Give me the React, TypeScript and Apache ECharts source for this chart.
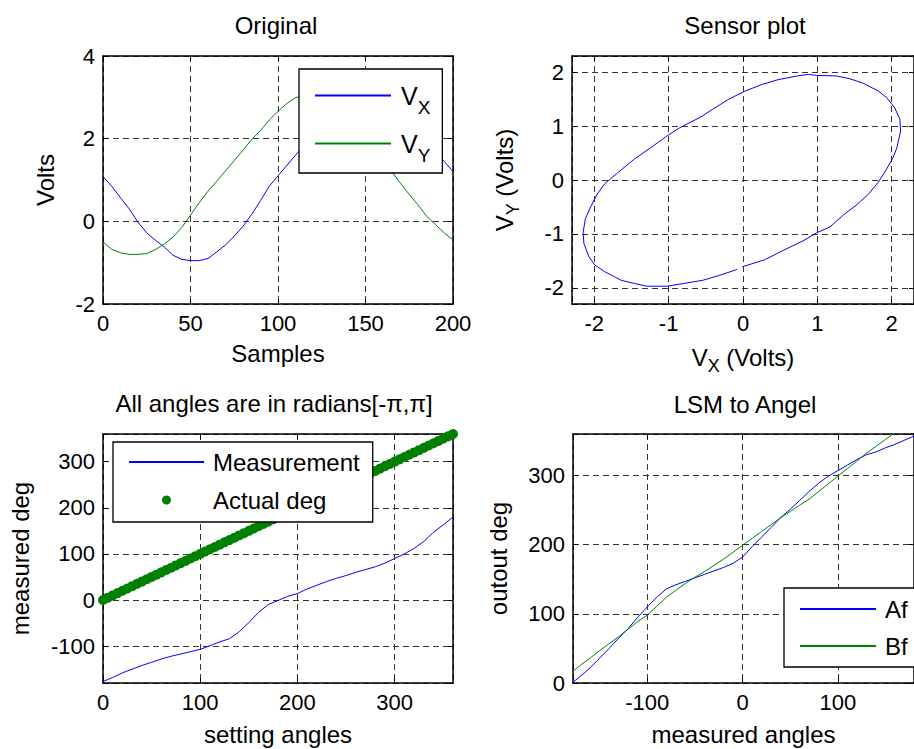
import React, { useEffect, useRef } from "react";
import * as echarts from "echarts";

const FONT = "'Liberation Sans', Arial, Helvetica, sans-serif";

// ---- Subplot 1: Original ----
const samples = [0, 5, 10, 15, 20, 25, 30, 35, 40, 45, 50, 55, 60, 65, 70, 75, 80, 85, 90, 95, 100, 105, 110, 115, 120, 125, 130, 135, 140, 145, 150, 155, 160, 165, 170, 175, 180, 185, 190, 195, 200];
const vx = [1.08, 0.85, 0.57, 0.3, -0.02, -0.28, -0.46, -0.62, -0.82, -0.92, -0.95, -0.95, -0.9, -0.74, -0.57, -0.36, -0.12, 0.17, 0.5, 0.85, 1.1, 1.35, 1.6, 1.85, 2.1, 2.3, 2.5, 2.65, 2.75, 2.8, 2.8, 2.75, 2.65, 2.5, 2.35, 2.2, 2.05, 1.85, 1.68, 1.45, 1.2];
const vy = [-0.5, -0.68, -0.76, -0.8, -0.8, -0.78, -0.68, -0.55, -0.38, -0.15, 0.15, 0.45, 0.73, 0.97, 1.22, 1.47, 1.72, 1.98, 2.2, 2.45, 2.66, 2.85, 2.99, 3.06, 3.1, 3.07, 2.95, 2.75, 2.5, 2.25, 1.98, 1.7, 1.45, 1.2, 0.92, 0.65, 0.4, 0.12, -0.08, -0.28, -0.45];

// ---- Subplot 2: Sensor plot ----
const sensorVx = [-0.01, 0.29, 0.55, 0.82, 0.99, 1.17, 1.34, 1.52, 1.69, 1.82, 1.93, 2.02, 2.07, 2.12, 2.11, 2.04, 1.93, 1.82, 1.61, 1.43, 1.26, 0.99, 0.88, 0.73, 0.47, 0.25, 0.03, -0.19, -0.41, -0.58, -0.85, -1.02, -1.24, -1.46, -1.68, -1.86, -1.96, -2.05, -2.12, -2.15, -2.14, -2.07, -1.99, -1.86, -1.64, -1.46, -1.29, -1.02, -0.8, -0.54, -0.32, -0.08];
const sensorVy = [-1.61, -1.48, -1.3, -1.12, -0.98, -0.87, -0.66, -0.47, -0.26, -0.04, 0.2, 0.42, 0.6, 0.91, 1.13, 1.34, 1.53, 1.65, 1.8, 1.88, 1.93, 1.94, 1.96, 1.93, 1.86, 1.77, 1.65, 1.5, 1.31, 1.16, 0.97, 0.82, 0.6, 0.39, 0.14, -0.07, -0.26, -0.5, -0.72, -0.97, -1.18, -1.43, -1.58, -1.7, -1.86, -1.92, -1.97, -1.97, -1.92, -1.86, -1.77, -1.66];

// ---- Subplot 3: All angles ----
const settingAngles = [0, 10, 20, 30, 40, 50, 60, 70, 80, 90, 100, 110, 120, 130, 140, 150, 160, 170, 180, 190, 200, 210, 220, 230, 240, 250, 260, 270, 280, 290, 300, 310, 320, 330, 340, 350, 360];
const measurement = [-177, -168, -158, -150, -142, -135, -128, -122, -117, -112, -107, -99, -91, -84, -69, -49, -27, -10, -1, 8, 14, 24, 32, 40, 47, 53, 60, 66, 72, 80, 90, 100, 112, 127, 147, 163, 180];
const dotSetting = [0, 5, 10, 15, 20, 25, 30, 35, 40, 45, 50, 55, 60, 65, 70, 75, 80, 85, 90, 95, 100, 105, 110, 115, 120, 125, 130, 135, 140, 145, 150, 155, 160, 165, 170, 175, 180, 185, 190, 195, 200, 205, 210, 215, 220, 225, 230, 235, 240, 245, 250, 255, 260, 265, 270, 275, 280, 285, 290, 295, 300, 305, 310, 315, 320, 325, 330, 335, 340, 345, 350, 355, 360];
const actualDeg = [0, 5, 10, 15, 20, 25, 30, 35, 40, 45, 50, 55, 60, 65, 70, 75, 80, 85, 90, 95, 100, 105, 110, 115, 120, 125, 130, 135, 140, 145, 150, 155, 160, 165, 170, 175, 180, 185, 190, 195, 200, 205, 210, 215, 220, 225, 230, 235, 240, 245, 250, 255, 260, 265, 270, 275, 280, 285, 290, 295, 300, 305, 310, 315, 320, 325, 330, 335, 340, 345, 350, 355, 360];

// ---- Subplot 4: LSM to Angel ----
const measuredAngles = [-178, -170, -160, -150, -140, -130, -120, -110, -100, -90, -80, -70, -60, -50, -40, -30, -20, -10, 0, 10, 20, 30, 40, 50, 60, 70, 80, 90, 100, 110, 120, 130, 140, 150, 160, 170, 180];
const af = [1, 10, 22, 36, 50, 65, 79, 95, 110, 124, 136, 142, 147, 152, 157, 162, 167, 173, 182, 197, 211, 225, 239, 251, 264, 277, 289, 299, 307, 315, 323, 330, 334, 340, 345, 351, 357];
const bf = [17, 26, 36, 47, 57, 67, 78, 89, 98, 111, 124, 134, 144, 153, 161, 170, 179, 189, 199, 209, 219, 229, 239, 248, 257, 266, 277, 288, 299, 310, 321, 332, 342, 352, 362, 372, 382];

const BLUE = "#0000ff";
const GREEN = "#008000";

type AxisCfg = { min: number; max: number; interval?: number; hideMin?: boolean; hideMax?: boolean };

function axisPair(dim: "x" | "y", grid: number, cfg: AxisCfg, name: string, nameGap: number, rich?: any) {
  const common: any = {
    type: "value",
    gridIndex: grid,
    min: cfg.min,
    max: cfg.max,
    splitNumber: 5,
    axisLine: { show: true, onZero: false, lineStyle: { color: "#000", width: 1.5 } },
    axisTick: { show: true, inside: true, length: 5, lineStyle: { color: "#000", width: 1 } },
  };
  if (cfg.interval !== undefined) common.interval = cfg.interval;
  const primary = {
    ...common,
    position: dim === "x" ? "bottom" : "left",
    axisLabel: {
      color: "#000",
      fontSize: 22,
      fontFamily: FONT,
      margin: 8,
      showMinLabel: !cfg.hideMin,
      showMaxLabel: !cfg.hideMax,
    },
    splitLine: { show: true, lineStyle: { color: "#333", width: 1, type: [6, 4] } },
    name,
    nameLocation: "middle",
    nameGap,
    nameTextStyle: { color: "#000", fontSize: 24, fontFamily: FONT, rich },
  };
  const mirror = {
    ...common,
    position: dim === "x" ? "top" : "right",
    axisLabel: { show: false },
    splitLine: { show: false },
  };
  return [primary, mirror];
}

const subRich = {
  v: { fontSize: 24, fontFamily: FONT, color: "#000", lineHeight: 36 },
  s: { fontSize: 18, fontFamily: FONT, color: "#000", lineHeight: 18, padding: [18, 0, 0, 0] },
  n: { fontSize: 24, fontFamily: FONT, color: "#000", lineHeight: 36 },
};

export default function App() {
  const ref = useRef<HTMLDivElement>(null);
  useEffect(() => {
    document.body.style.margin = "0";
    if (!ref.current) return;
    const chart = echarts.init(ref.current, undefined, { renderer: "svg" });

    const grids = [
      { left: 103, top: 56, width: 350, height: 248 },
      { left: 572, top: 56, width: 351, height: 248 },
      { left: 103, top: 434, width: 350, height: 249 },
      { left: 573, top: 434, width: 351, height: 249 },
    ];

    const xAxes = [
      ...axisPair("x", 0, { min: 0, max: 200, interval: 50 }, "Samples", 37),
      ...axisPair("x", 1, { min: -2.3, max: 2.3, hideMin: true, hideMax: true }, "{v|V}{s|X}{n| (Volts)}", 35, subRich),
      ...axisPair("x", 2, { min: 0, max: 360, interval: 100, hideMax: true }, "setting angles", 39),
      ...axisPair("x", 3, { min: -178, max: 180, hideMin: true, hideMax: true }, "measured angles", 39),
    ];
    const yAxes = [
      ...axisPair("y", 0, { min: -2, max: 4, interval: 2 }, "Volts", 46),
      ...axisPair("y", 1, { min: -2.3, max: 2.3, hideMin: true, hideMax: true }, "{v|V}{s|Y}{n| (Volts)}", 50, subRich),
      ...axisPair("y", 2, { min: -180, max: 360, hideMin: true, hideMax: true }, "measured deg", 71),
      ...axisPair("y", 3, { min: 0, max: 360, interval: 100, hideMax: true }, "outout deg", 63),
    ];

    const lineSeries = (name: string, g: number, xs: number[], ys: number[], color: string) => ({
      type: "line",
      name,
      xAxisIndex: g * 2,
      yAxisIndex: g * 2,
      data: xs.map((x, i) => [x, ys[i]]),
      showSymbol: false,
      symbol: "none",
      lineStyle: { color, width: 1 },
      itemStyle: { color },
      clip: true,
      z: 3,
    });

    const titleStyle = { color: "#000", fontSize: 24, fontWeight: "normal", fontFamily: FONT };

    const legendBase = {
      orient: "vertical",
      backgroundColor: "#fff",
      borderColor: "#000",
      borderWidth: 1.3,
      borderRadius: 0,
      selectedMode: false,
      z: 10,
    };

    chart.setOption({
      animation: false,
      textStyle: { fontFamily: FONT },
      title: [
        { text: "Original", left: 276, top: 13, textAlign: "center", padding: 0, textStyle: titleStyle },
        { text: "Sensor plot", left: 745, top: 13, textAlign: "center", padding: 0, textStyle: titleStyle },
        { text: "All angles are in radians[-π,π]", left: 274, top: 391, textAlign: "center", padding: 0, textStyle: titleStyle },
        { text: "LSM to Angel", left: 745, top: 392, textAlign: "center", padding: 0, textStyle: titleStyle },
      ],
      grid: grids.map((g) => ({ ...g, show: false, containLabel: false })),
      xAxis: xAxes,
      yAxis: yAxes,
      legend: [
        {
          ...legendBase,
          data: [
            { name: "VX", itemStyle: { opacity: 0 } },
            { name: "VY", itemStyle: { opacity: 0 } },
          ],
          left: 299,
          top: 69,
          padding: [5, 12, 8, 15],
          itemWidth: 76,
          itemHeight: 10,
          itemGap: 5,
          formatter: (n: string) => (n === "VX" ? "{v|V}{s|X}" : "{v|V}{s|Y}"),
          textStyle: {
            color: "#000",
            fontFamily: FONT,
            rich: {
              v: { fontSize: 25, lineHeight: 42, fontFamily: FONT, color: "#000", padding: [0, 0, 0, 5] },
              s: { fontSize: 19, lineHeight: 18, fontFamily: FONT, color: "#000", padding: [24, 0, 0, 0] },
            },
          },
        },
        {
          ...legendBase,
          data: [
            { name: "Measurement", itemStyle: { opacity: 0 } },
            { name: "Actual deg" },
          ],
          left: 113,
          top: 442,
          padding: [6, 13, 8, 15],
          itemWidth: 75,
          itemHeight: 9,
          itemGap: 10,
          textStyle: { color: "#000", fontFamily: FONT, fontSize: 24, lineHeight: 28, padding: [0, 0, 0, 4] },
        },
        {
          ...legendBase,
          data: [
            { name: "Af", itemStyle: { opacity: 0 } },
            { name: "Bf", itemStyle: { opacity: 0 } },
          ],
          left: 784,
          top: 588,
          padding: [7, 14, 7, 15],
          itemWidth: 76,
          itemHeight: 10,
          itemGap: 9,
          textStyle: { color: "#000", fontFamily: FONT, fontSize: 24, lineHeight: 28, padding: [0, 0, 0, 4] },
        },
      ],
      series: [
        lineSeries("VX", 0, samples, vx, BLUE),
        lineSeries("VY", 0, samples, vy, GREEN),
        lineSeries("sensor", 1, sensorVx, sensorVy, BLUE),
        lineSeries("Measurement", 2, settingAngles, measurement, BLUE),
        {
          type: "scatter",
          name: "Actual deg",
          xAxisIndex: 4,
          yAxisIndex: 4,
          data: dotSetting.map((x, i) => [x, actualDeg[i]]),
          symbol: "circle",
          symbolSize: 10,
          itemStyle: { color: GREEN, opacity: 1 },
          clip: false,
          z: 4,
        },
        lineSeries("Af", 3, measuredAngles, af, BLUE),
        lineSeries("Bf", 3, measuredAngles, bf, GREEN),
      ],
    });

    return () => chart.dispose();
  }, []);

  return <div ref={ref} style={{ width: 914, height: 749 }} />;
}
